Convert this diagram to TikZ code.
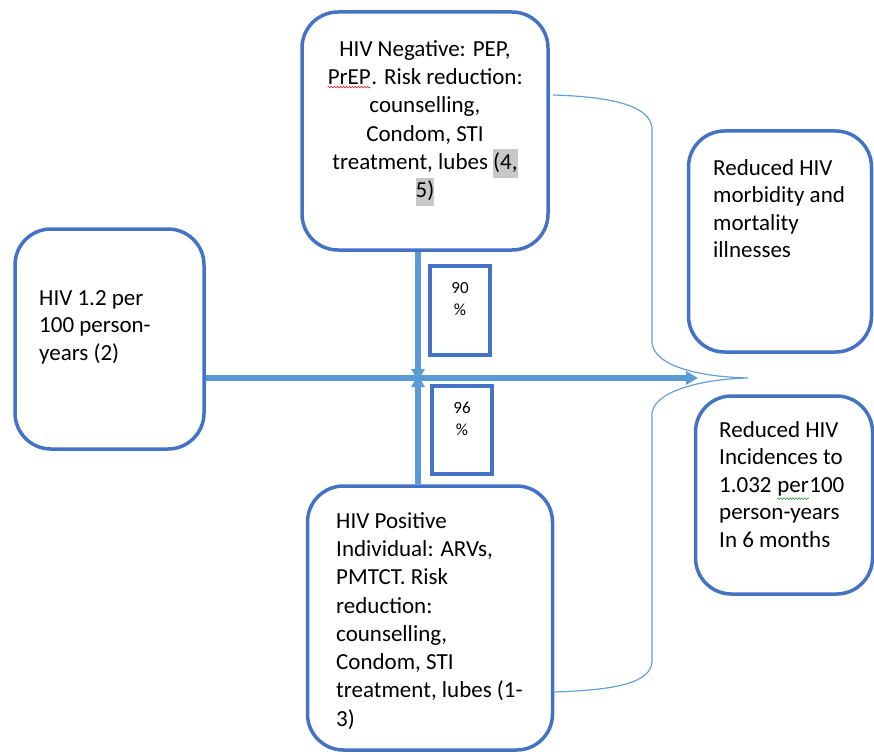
\documentclass[tikz,border=0pt]{standalone}
\usepackage{fontspec}
\setmainfont{Carlito}
\usepackage{tikz}
\usetikzlibrary{positioning, arrows.meta, calc, decorations.pathmorphing}
\definecolor{boxblue}{RGB}{68,114,196}
\definecolor{arrowblue}{RGB}{91,155,213}
\definecolor{braceblue}{RGB}{100,160,215}
\definecolor{hlgray}{RGB}{200,200,200}
\definecolor{spellred}{RGB}{220,40,40}
\definecolor{spellgreen}{RGB}{60,160,60}

\newcommand{\hl}[1]{{\setlength{\fboxsep}{0pt}\colorbox{hlgray}{\strut #1}}}
\newcommand{\squig}[2]{\tikz[baseline=(w.base),x=1pt,y=1pt]{\node[inner sep=0pt] (w) {#2};
  \draw[#1, line width=0.6pt, decorate, decoration={snake, amplitude=0.9pt, segment length=3pt}]
    ([yshift=-2.5pt]w.south west) -- ([yshift=-2.5pt]w.south east);}}

\tikzset{
  roundbox/.style={draw=boxblue, line width=3.5pt, rounded corners=36pt, fill=white},
  pctbox/.style={draw=boxblue, line width=3.5pt, fill=white},
  boxtext/.style={inner sep=0pt, font=\fontsize{23}{27.5}\selectfont},
  widetext/.style={boxtext, font=\fontsize{23}{28.3}\selectfont},
  pcttext/.style={inner sep=0pt, align=center, font=\fontsize{17}{22}\selectfont},
  flow/.style={draw=arrowblue, line width=5.5pt, -{Triangle[length=12pt, width=13pt]}},
  bracket/.style={draw=braceblue, line width=1.2pt}
}

\begin{document}
\begin{tikzpicture}[x=1pt, y=-1pt]
\useasboundingbox (0,0) rectangle (874,754);

% boxes
\node[roundbox, minimum width=246pt, minimum height=238pt] (neg) at (425,131) {};
\node[roundbox, minimum width=189pt, minimum height=220pt] (base) at (109.5,339) {};
\node[roundbox, minimum width=245pt, minimum height=264pt] (pos) at (430,618) {};
\node[roundbox, minimum width=183pt, minimum height=221pt] (morb) at (780,241.5) {};
\node[roundbox, minimum width=177pt, minimum height=198pt] (inc) at (784,495) {};

\coordinate (hub) at (418,378);
\coordinate (tip) at (748,378);
\coordinate (flowend) at (698,378);

% arrows
\draw[flow] (base.east |- hub) -- (flowend);
\draw[flow] (neg.south -| hub) -- ([yshift=-3pt]hub);
\draw[flow] (pos.north -| hub) -- ([yshift=3pt]hub);

\node[pctbox, minimum width=60pt, minimum height=89pt] (p90) at (460,310.5) {};
\node[pctbox, minimum width=60pt, minimum height=88pt] (p96) at (462,430) {};
\node[pcttext] (p90t) at (p90.center) [yshift=11pt] {90\\\%};
\node[pcttext] (p96t) at (p96.center) [yshift=11pt] {96\\\%};

% texts
\node[widetext, align=center, anchor=north] (negt) at (425,40)
  {HIV Negative: PEP,\\\squig{spellred}{PrEP}. Risk reduction:\\counselling,\\Condom, STI\\treatment, lubes \hl{(4,}\\\hl{5)}};
\node[boxtext, align=left, anchor=north west] (baset) at (39,290)
  {HIV 1.2 per\\100 person-\\years (2)};
\node[widetext, align=left, anchor=north west] (post) at (336,512)
  {HIV Positive\\Individual: ARVs,\\PMTCT. Risk\\reduction:\\counselling,\\Condom, STI\\treatment, lubes (1-\\3)};
\node[boxtext, align=left, anchor=north west] (morbt) at (713,159)
  {Reduced HIV\\morbidity and\\mortality\\illnesses};
\node[boxtext, align=left, anchor=north west] (inct) at (719,421)
  {Reduced HIV\\Incidences to\\1.032 \squig{spellgreen}{per}100\\person-years\\In 6 months};

% brace
\draw[bracket] (553,95) .. controls (620,97) and (650,108) .. (652,128) -- (652,343)
  .. controls (655,368) and (705,377) .. (tip)
  .. controls (705,379) and (655,390) .. (652,413) -- (652,662)
  .. controls (650,682) and (620,690) .. (553,692);
\end{tikzpicture}
\end{document}
